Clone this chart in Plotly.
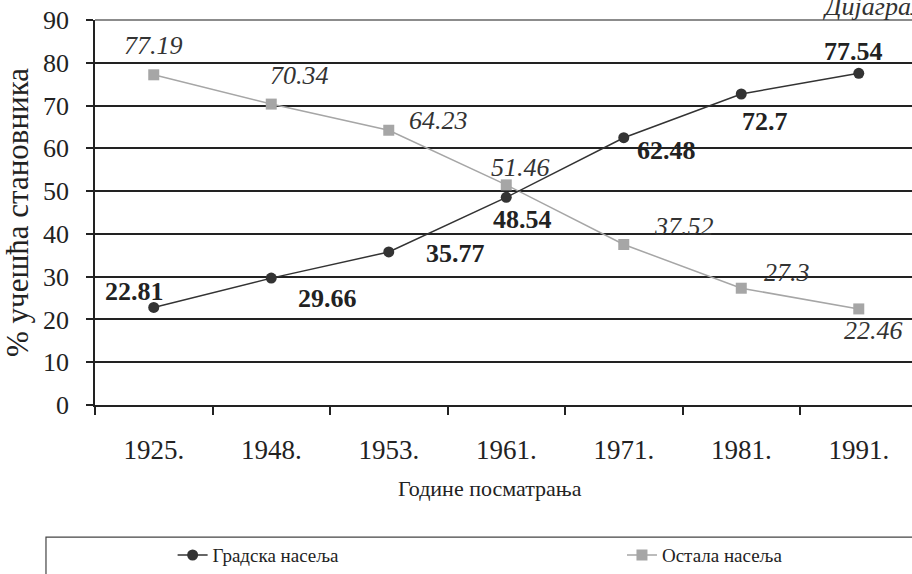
import plotly.graph_objects as go

years = ["1925.", "1948.", "1953.", "1961.", "1971.", "1981.", "1991."]
urban = [22.81, 29.66, 35.77, 48.54, 62.48, 72.7, 77.54]
other = [77.19, 70.34, 64.23, 51.46, 37.52, 27.3, 22.46]
urban_name = "Градска насеља"
other_name = "Остала насеља"
x_title = "Године посматрања"
y_title = "% учешћа становника"
caption = "Дијаграм 14."

FONT = "Liberation Serif, Times New Roman, serif"
xi = list(range(len(years)))

fig = go.Figure()
fig.add_trace(go.Scatter(
    x=xi, y=other, name=other_name, mode="lines+markers", legend="legend2",
    line=dict(color="#a6a6a6", width=1.5),
    marker=dict(symbol="square", size=11, color="#a6a6a6"),
))
fig.add_trace(go.Scatter(
    x=xi, y=urban, name=urban_name, mode="lines+markers", legend="legend",
    line=dict(color="#333333", width=1.5),
    marker=dict(symbol="circle", size=11, color="#333333"),
))

# label offsets (px): (right, up)
urban_off = [(-19, 16), (56, -20), (67, -2), (16, -22), (43, -13), (24, -27), (-5, 22)]
other_off = [(0, 29), (28, 29), (50, 10), (14, 17), (60, 18), (46, 16), (15, -22)]

for i in xi:
    dx, dy = urban_off[i]
    fig.add_annotation(x=i, y=urban[i], xref="x", yref="y", text="<b>%s</b>" % urban[i],
                       showarrow=False, xshift=dx, yshift=dy,
                       font=dict(family=FONT, size=26, color="#222"))
    dx, dy = other_off[i]
    fig.add_annotation(x=i, y=other[i], xref="x", yref="y", text="<i>%s</i>" % other[i],
                       showarrow=False, xshift=dx, yshift=dy,
                       font=dict(family=FONT, size=26, color="#333"))

# x-axis title
fig.add_annotation(xref="paper", yref="paper", x=0.4835, y=-0.2156, yanchor="middle",
                   text=x_title, showarrow=False,
                   font=dict(family=FONT, size=22, color="#222"))

# top-right caption (cropped by the page edge)
fig.add_annotation(xref="paper", yref="paper", x=0.888, y=0.992, xanchor="left", yanchor="bottom",
                   text="<i>%s</i>" % caption, showarrow=False,
                   font=dict(family=FONT, size=26, color="#333"))

# top border line of plot (gray)
fig.add_shape(type="line", xref="paper", yref="paper", x0=0, x1=1, y0=1, y1=1,
              line=dict(color="#8c8c8c", width=2))

# legend border box
fig.add_shape(type="rect", xref="paper", yref="paper",
              x0=-0.06, x1=1.05, y0=-0.5, y1=-0.343,
              line=dict(color="#444", width=1.2), fillcolor="rgba(0,0,0,0)")

leg_common = dict(orientation="h", yanchor="middle", y=-0.39, xanchor="left",
                  font=dict(family=FONT, size=19, color="#222"), bgcolor="rgba(0,0,0,0)")

fig.update_layout(
    width=912, height=574,
    margin=dict(l=95, r=0, t=20, b=169, autoexpand=False),
    paper_bgcolor="white", plot_bgcolor="white",
    font=dict(family=FONT, size=22, color="#222"),
    showlegend=True,
    legend=dict(x=0.095, **leg_common),
    legend2=dict(x=0.645, **leg_common),
    xaxis=dict(range=[-0.5, 6.453], tickvals=xi, ticktext=years, ticks="",
               showline=True, linecolor="#222", linewidth=2, showgrid=False, zeroline=False,
               ticklabelstandoff=20,
               minor=dict(tickvals=[v - 0.5 for v in xi] + [len(xi) - 0.5], ticks="outside",
                          ticklen=8, tickcolor="#222", tickwidth=1.5, showgrid=False),
               tickfont=dict(family=FONT, size=27, color="#222")),
    yaxis=dict(range=[0, 90], dtick=10, ticks="outside", ticklen=7, tickcolor="#222",
               tickwidth=1.5, showline=True, linecolor="#222", linewidth=1.5,
               showgrid=True, gridcolor="#222", gridwidth=1.5, zeroline=False,
               ticklabelstandoff=12,
               tickfont=dict(family=FONT, size=26, color="#222"),
               title=dict(text=y_title, standoff=11,
                          font=dict(family=FONT, size=31, color="#222"))),
)

fig.write_html("out.html", config={"displayModeBar": False},
               post_script="document.body.style.margin='0';document.body.style.padding='0';")
